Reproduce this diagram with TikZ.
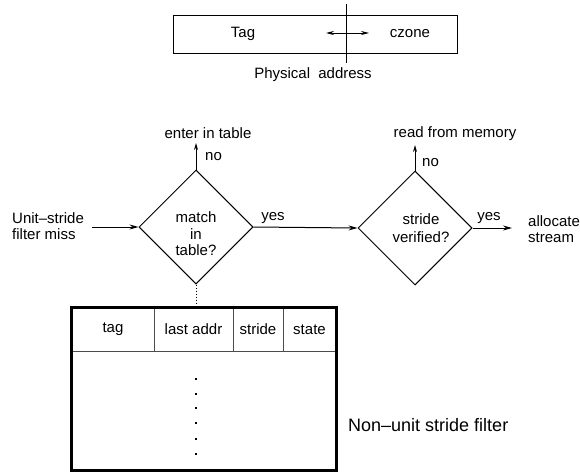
\documentclass[tikz,border=0pt]{standalone}
\usepackage{fontspec}
\setmainfont{Liberation Sans}
\usetikzlibrary{shapes.geometric,arrows.meta}
\begin{document}
\begin{tikzpicture}[x=1pt,y=-1pt,
  txt/.style={inner sep=0pt,font=\fontsize{15}{17}\selectfont},
  dia/.style={diamond,draw,line width=1pt,minimum width=114pt,minimum height=114pt,inner sep=0pt,aspect=1},
  arr/.style={line width=1pt,-{Stealth[length=9pt,width=5pt]}},
  uparr/.style={line width=1pt,-{Stealth[length=7pt,width=4pt]}},
  cell/.style={draw=black!70,line width=0.8pt,minimum height=43pt,inner sep=0pt,font=\fontsize{15}{17}\selectfont},
  dotmark/.style={fill=black,inner sep=0pt,minimum size=1.6pt,rectangle}]
\useasboundingbox (0,0) rectangle (580,471);
% physical address box
\node[draw,line width=1pt,minimum width=284pt,minimum height=38pt,inner sep=0pt] (addr) at (315,34) {};
\coordinate (dtop) at (346,4);
\coordinate (dbot) at (346,63);
\draw[line width=1pt] (dtop) -- (dbot);
\coordinate (al) at (326,33);
\coordinate (ar) at (369,33);
\draw[line width=0.8pt,{Stealth[length=8pt,width=4pt]}-{Stealth[length=8pt,width=4pt]}] (al) -- (ar);
\node[txt] (tag) at (243,34) {Tag};
\node[txt] (czone) at (410,34) {czone};
\node[txt] (phys) at (313,75) {Physical\hspace{0.55em}address};
% diamonds
\node[dia] (d1) at (196,227) {};
\node[dia] (d2) at (415,228) {};
\node[txt,align=center,font=\fontsize{15}{16.5}\selectfont] (t1) at (196,234) {match\\in\\table?};
\node[txt,align=center,font=\fontsize{15}{18}\selectfont] (t2) at (421,228) {stride\\verified?};
% inputs / outputs
\node[txt,align=left,anchor=west,font=\fontsize{15}{16}\selectfont] (miss) at (12,226) {Unit--stride\\filter miss};
\coordinate (missend) at (92,227);
\draw[arr] (missend) -- (d1.west);
\node[txt] (enter) at (208,133) {enter in table};
\coordinate (up1) at (196,143);
\draw[uparr] (d1.north) -- (up1);
\node[txt,anchor=west] (no1) at (205,157) {no};
\draw[arr] (d1.east) -- (d2.west);
\node[txt] (yes1) at (273,218) {yes};
\node[txt] (read) at (455,134) {read from memory};
\coordinate (up2) at (415,145);
\draw[uparr] (d2.north) -- (up2);
\node[txt,anchor=west] (no2) at (422,163) {no};
\coordinate (out2) at (512,228);
\draw[arr] (d2.east) -- (out2);
\node[txt] (yes2) at (489,218) {yes};
\node[txt,align=left,anchor=west,font=\fontsize{15}{16}\selectfont] (alloc) at (528,229) {allocate\\stream};
% table
\node[cell,minimum width=82pt] (c1) at (113,329.5) {tag};
\node[cell,minimum width=79pt] (c2) at (193.5,329.5) {last addr};
\node[cell,minimum width=50pt] (c3) at (258,329.5) {stride};
\node[cell,minimum width=53pt] (c4) at (309.5,329.5) {state};
\node[draw=black!70,line width=0.8pt,minimum width=264pt,minimum height=119pt,inner sep=0pt] (body) at (204,410.5) {};
\draw[line width=2.5pt] (c1.north west) rectangle (body.south east);
\draw[line width=1pt,dotted] (d1.south) -- (d1.south |- c1.north);
\foreach \yy/\nm in {379/a,394/b,408/c,423/d,439/e,454/f}
  \node[dotmark] (dot\nm) at (196,\yy) {};
\node[txt,anchor=west,font=\fontsize{18}{20}\selectfont] (nonunit) at (348,425) {Non--unit stride filter};
\end{tikzpicture}
\end{document}
